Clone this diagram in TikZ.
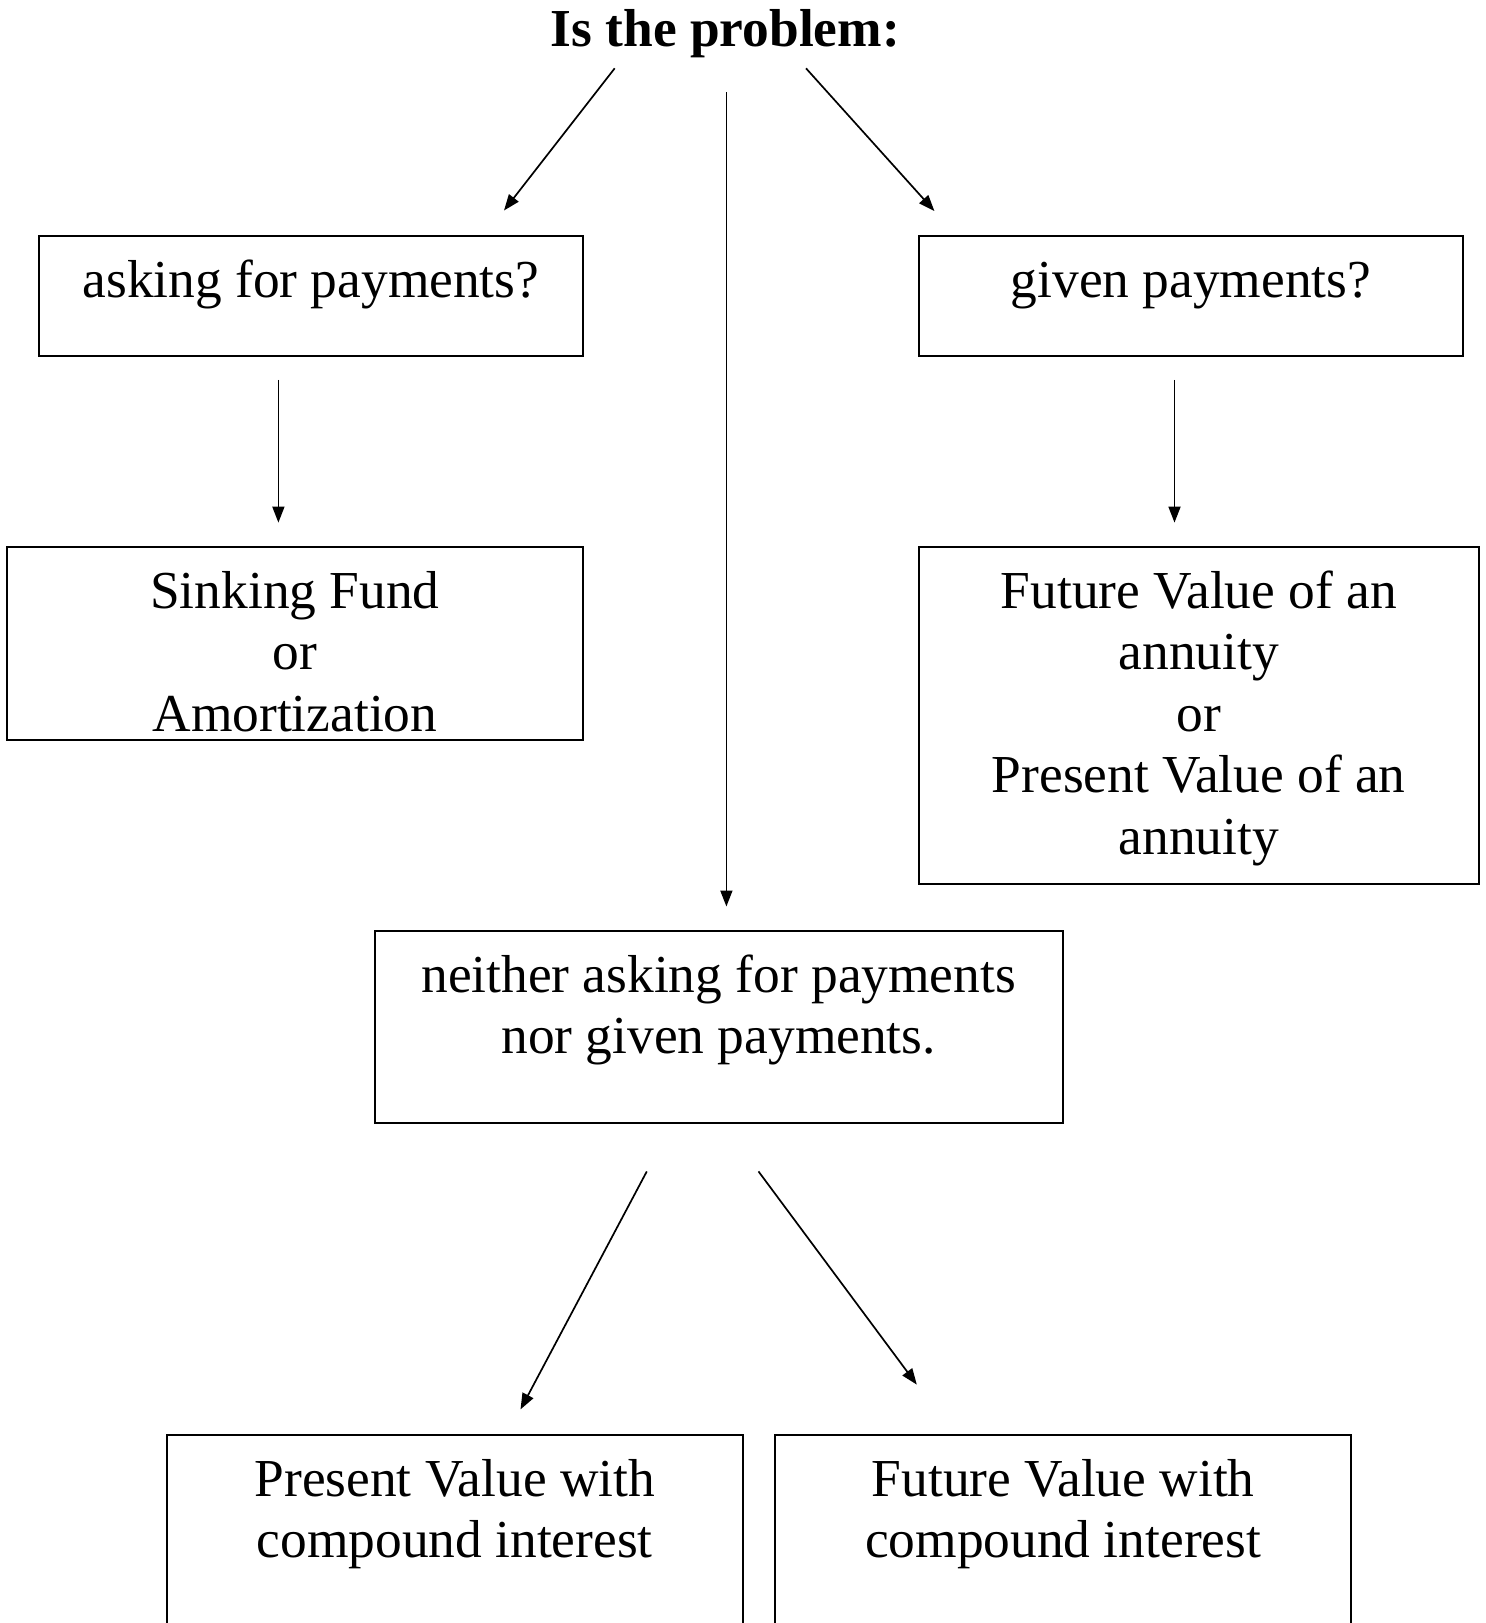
\documentclass[tikz,border=0pt]{standalone}
\usepackage{fontspec}
\setmainfont{Liberation Serif}
\usetikzlibrary{arrows.meta}
\newlength\pxu
\setlength\pxu{0.5pt}
\newcommand\boxtext[3]{\parbox[t][#2\pxu][t]{#1\pxu}{\centering\rule{0pt}{61\pxu}#3\par}}
\tikzset{
  txtfont/.style={font=\fontsize{26.7}{30.7}\selectfont},
  box/.style={txtfont, draw, line width=1pt, rectangle, inner sep=0pt, outer sep=0pt, anchor=north west},
  arr/.style={line width=0.85pt, -{Triangle[length=8pt,width=6pt]}}
}
\begin{document}
\begin{tikzpicture}[x=0.5pt,y=-0.5pt]
\useasboundingbox (0,0) rectangle (1486,1623);
\clip (0,0) rectangle (1486,1623);
\fill[white] (0,0) rectangle (1486,1623);

\node[txtfont, font=\fontsize{26.7}{30.7}\selectfont\bfseries, anchor=base, inner sep=0pt] (title) at (725.4,46.5) {Is the problem:};

\node[box] (ask) at (39.3,236) {\boxtext{543.3}{120}{asking for payments?}};
\node[box] (given) at (918.9,236) {\boxtext{544.3}{120}{given payments?}};
\node[box] (sink) at (7.2,547.4) {\boxtext{575.4}{192.5}{Sinking Fund\\or\\Amortization}};
\node[box] (annu) at (918.9,547.4) {\boxtext{559.8}{336.3}{Future Value of an\\annuity\\or\\Present Value of an\\annuity}};
\node[box] (neither) at (374.6,931.3) {\boxtext{688.1}{191.5}{neither asking for payments\\nor given payments.}};
\node[box] (pv) at (166.6,1435.3) {\boxtext{576.4}{260}{Present Value with\\compound interest}};
\node[box] (fv) at (775,1435.3) {\boxtext{576.4}{260}{Future Value with\\compound interest}};

\coordinate (a1s) at (614.7,68.3);
\coordinate (a1e) at (504,210.5);
\coordinate (a2s) at (726.4,92);
\coordinate (a2e) at (726.4,906.5);
\coordinate (a3s) at (806,68.3);
\coordinate (a3e) at (934.4,211);
\coordinate (a4s) at (278.4,379.8);
\coordinate (a4e) at (278.4,522.6);
\coordinate (a5s) at (1174.5,379.8);
\coordinate (a5e) at (1174.5,522.6);
\coordinate (a6s) at (646.8,1171.4);
\coordinate (a6e) at (520.5,1409.4);
\coordinate (a7s) at (758.5,1171.4);
\coordinate (a7e) at (916.8,1384.6);

\draw[arr] (a1s) -- (a1e);
\draw[arr] (a2s) -- (a2e);
\draw[arr] (a3s) -- (a3e);
\draw[arr] (a4s) -- (a4e);
\draw[arr] (a5s) -- (a5e);
\draw[arr] (a6s) -- (a6e);
\draw[arr] (a7s) -- (a7e);
\end{tikzpicture}
\end{document}
